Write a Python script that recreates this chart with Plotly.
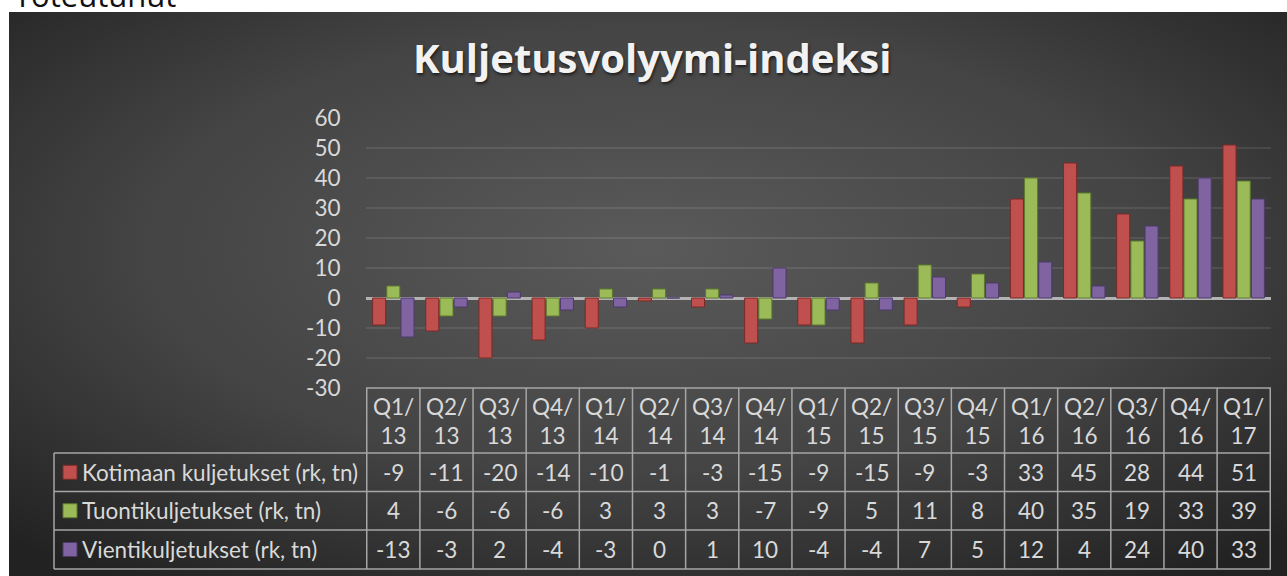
import base64
import plotly.graph_objects as go

# ---------------- data ----------------
quarters = ["Q1/13", "Q2/13", "Q3/13", "Q4/13", "Q1/14", "Q2/14", "Q3/14", "Q4/14",
            "Q1/15", "Q2/15", "Q3/15", "Q4/15", "Q1/16", "Q2/16", "Q3/16", "Q4/16", "Q1/17"]
kotimaan = [-9, -11, -20, -14, -10, -1, -3, -15, -9, -15, -9, -3, 33, 45, 28, 44, 51]
tuonti = [4, -6, -6, -6, 3, 3, 3, -7, -9, 5, 11, 8, 40, 35, 19, 33, 39]
vienti = [-13, -3, 2, -4, -3, 0, 1, 10, -4, -4, 7, 5, 12, 4, 24, 40, 33]
series_names = ["Kotimaan kuljetukset (rk, tn)", "Tuontikuljetukset (rk, tn)", "Vientikuljetukset (rk, tn)"]
series_values = [kotimaan, tuonti, vienti]
y_ticks = [-30, -20, -10, 0, 10, 20, 30, 40, 50, 60]
title_text = "Kuljetusvolyymi-indeksi"
page_text = "Toteutunut"

# ---------------- style ----------------
W, H = 1287, 576
colors = ["#c0504d", "#9bbb59", "#8064a2"]
edge_colors = ["#7a2a28", "#5e7a2e", "#4d3a6a"]
txt_col = "#d9d9d9"
line_col = "#a6a6a6"
FONT = "Lato"
TS = 22.5


def py(y):
    return 1 - y / H


def px(x):
    return x / W


plot_left, plot_right = 366, 1271
plot_top, plot_bottom = 118, 388
table_rows = [388, 453, 491.5, 530, 569]
legend_left = 54

fig = go.Figure()
for name, vals, c, ec in zip(series_names, series_values, colors, edge_colors):
    fig.add_trace(go.Bar(x=quarters, y=vals, name=name,
                         marker=dict(color=c, line=dict(color=ec, width=1)),
                         showlegend=False, hoverinfo="x+y+name"))

# background radial gradient (chart panel)
svg = ("<svg xmlns='http://www.w3.org/2000/svg' width='1278' height='564' preserveAspectRatio='none'>"
       "<defs><radialGradient id='g' cx='0.5' cy='0.42' r='0.72'>"
       "<stop offset='0' stop-color='#5a5a5a'/><stop offset='0.55' stop-color='#444444'/>"
       "<stop offset='1' stop-color='#222222'/></radialGradient></defs>"
       "<rect width='100%' height='100%' fill='url(#g)'/></svg>")
src = "data:image/svg+xml;base64," + base64.b64encode(svg.encode()).decode()
images = [dict(source=src, xref="paper", yref="paper", x=px(9), y=py(12),
               sizex=px(1278), sizey=564 / H, sizing="stretch", layer="below",
               xanchor="left", yanchor="top")]

shapes = []
n = len(quarters)
# vertical table lines at category boundaries
for i in range(n + 1):
    shapes.append(dict(type="line", xref="x", yref="paper", x0=i - 0.5, x1=i - 0.5,
                       y0=py(table_rows[0]), y1=py(table_rows[-1]),
                       line=dict(color=line_col, width=1.5)))
# horizontal table lines
shapes.append(dict(type="line", xref="paper", yref="paper", x0=px(plot_left), x1=px(plot_right),
                   y0=py(table_rows[0]), y1=py(table_rows[0]), line=dict(color=line_col, width=1.5)))
for yv in table_rows[1:]:
    shapes.append(dict(type="line", xref="paper", yref="paper", x0=px(legend_left), x1=px(plot_right),
                       y0=py(yv), y1=py(yv), line=dict(color=line_col, width=1.5)))
shapes.append(dict(type="line", xref="paper", yref="paper", x0=px(legend_left), x1=px(legend_left),
                   y0=py(table_rows[1]), y1=py(table_rows[-1]), line=dict(color=line_col, width=1.5)))

annotations = []
# header row
hdr_c = (table_rows[0] + table_rows[1]) / 2
for q in quarters:
    annotations.append(dict(x=q, xref="x", y=py(hdr_c), yref="paper", text=q.replace("/", "/<br>"),
                            showarrow=False, font=dict(family=FONT, size=TS, color=txt_col),
                            xanchor="center", yanchor="middle"))
# value rows + legend column
for r, (name, vals, c, ec) in enumerate(zip(series_names, series_values, colors, edge_colors)):
    yc = (table_rows[r + 1] + table_rows[r + 2]) / 2
    for q, v in zip(quarters, vals):
        annotations.append(dict(x=q, xref="x", y=py(yc), yref="paper", text=str(v),
                                showarrow=False, font=dict(family=FONT, size=TS, color=txt_col),
                                xanchor="center", yanchor="middle"))
    annotations.append(dict(x=px(80), xref="paper", y=py(yc), yref="paper", text=name,
                            showarrow=False, font=dict(family=FONT, size=TS, color=txt_col),
                            xanchor="left", yanchor="middle"))
    shapes.append(dict(type="rect", xref="paper", yref="paper", x0=px(63), x1=px(77),
                       y0=py(yc + 7), y1=py(yc - 7), fillcolor=c, line=dict(color=ec, width=1)))

# title
annotations.append(dict(x=px(652), xref="paper", y=py(58), yref="paper", text="<b>" + title_text + "</b>",
                        showarrow=False, xanchor="center", yanchor="middle",
                        font=dict(family="Open Sans", size=40, color="#f2f2f2",
                                  shadow="1px 2px 3px rgba(0,0,0,0.6)")))
# page text above the chart (cut off at the top edge, as in the reference)
annotations.append(dict(x=px(12), xref="paper", y=1, yref="paper", text=page_text,
                        showarrow=False, xanchor="left", yanchor="bottom", yshift=-18,
                        font=dict(family="Open Sans", size=31, color="#111111")))

fig.update_layout(
    width=W, height=H,
    margin=dict(l=0, r=0, t=0, b=0, pad=0, autoexpand=False),
    paper_bgcolor="white",
    plot_bgcolor="rgba(0,0,0,0)",
    barmode="group", bargap=0.2, bargroupgap=0.08,
    images=images, shapes=shapes, annotations=annotations,
    xaxis=dict(domain=[px(plot_left), px(plot_right)], showticklabels=False, showgrid=False,
               zeroline=False, showline=False, ticks=""),
    yaxis=dict(domain=[py(plot_bottom), py(plot_top)], range=[-30, 60], tickvals=y_ticks,
               ticktext=[str(v) for v in y_ticks],
               showgrid=True, gridcolor="rgba(255,255,255,0.09)", gridwidth=1.5,
               zeroline=True, zerolinecolor="#b3b3b3", zerolinewidth=2.5,
               tickfont=dict(family=FONT, size=TS, color=txt_col),
               ticks="outside", ticklen=20, tickcolor="rgba(0,0,0,0)", showline=False),
)

fig.write_html("out.html", config={"displayModeBar": False},
               post_script="document.body.style.margin='0';")
